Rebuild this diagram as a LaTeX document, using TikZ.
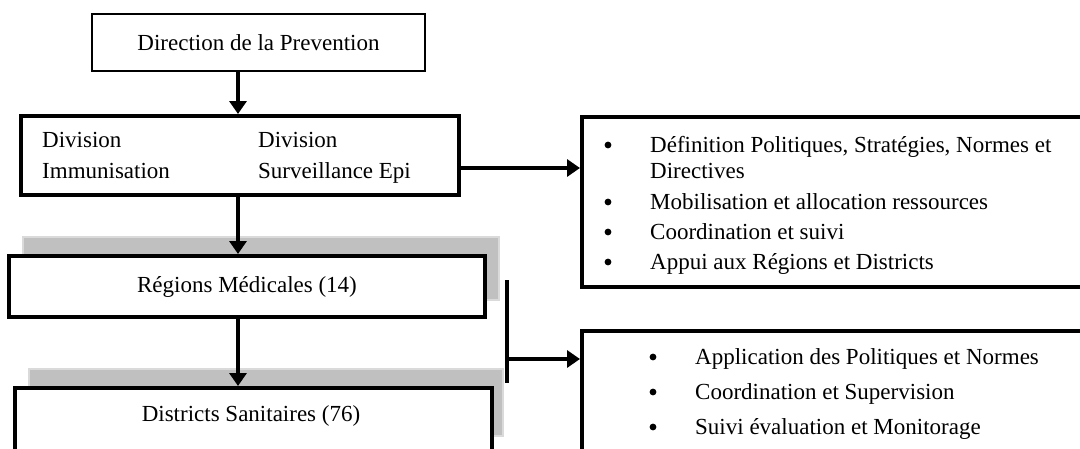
\documentclass[tikz,border=0pt]{standalone}
\usepackage{fontspec}
\setmainfont{Liberation Serif}
\usepackage{tikz}
\usetikzlibrary{arrows.meta,positioning}
\definecolor{shgrey}{HTML}{C0C0C0}
\definecolor{shedge}{HTML}{DADADA}
\tikzset{
  orgbox/.style={draw,line width=4pt,fill=white,inner sep=0pt,anchor=north west},
  topbox/.style={draw,line width=2pt,fill=white,inner sep=0pt,anchor=north west},
  shadowbox/.style={fill=shgrey,draw=shedge,line width=1.2pt},
  link/.style={line width=3.5pt,-{Triangle[length=13pt,width=17pt]}},
  lbl/.style={font=\fontsize{23}{27}\selectfont,inner sep=0pt},
}

\begin{document}
\begin{tikzpicture}[x=1pt,y=-1pt]
  \useasboundingbox (0,0) rectangle (1080,448);
  \clip (0,0) rectangle (1080,448);
  % shadows
  \draw[shadowbox] (23,237) rectangle (499,300);
  \draw[shadowbox] (29,369) rectangle (503,436);
  % boxes
  \node[topbox,minimum width=333pt,minimum height=57pt,lbl] (dir) at (91,13) {Direction de la Prevention};
  \node[orgbox,minimum width=438pt,minimum height=79pt] (div) at (19,114) {};
  \node[orgbox,minimum width=476pt,minimum height=61pt,lbl] (reg) at (7,254) {R\'egions M\'edicales (14)};
  \node[orgbox,minimum width=477pt,minimum height=100pt] (dis) at (13,386) {};
  \node[orgbox,minimum width=520pt,minimum height=170pt] (task1) at (580,115) {};
  \node[orgbox,minimum width=520pt,minimum height=150pt] (task2) at (580,329) {};
  % texts
  \node[lbl,anchor=base west] (div1a) at (42,147) {Division};
  \node[lbl,anchor=base west] (div1b) at (42,178) {Immunisation};
  \node[lbl,anchor=base west] (div2a) at (258,147) {Division};
  \node[lbl,anchor=base west] (div2b) at (258,178) {Surveillance Epi};
  \node[lbl,anchor=base] (dislbl) at (251,421) {Districts Sanitaires (76)};
  \foreach \yy/\txt in {152/{D\'efinition Politiques, Strat\'egies, Normes et},178/Directives,209/Mobilisation et allocation ressources,239/Coordination et suivi,269/Appui aux R\'egions et Districts}
    \node[lbl,anchor=base west] at (650,\yy) {\txt};
  \foreach \yy in {152,209,239,269}
    \fill (608,\yy-7) circle (3.4pt);
  \foreach \yy/\txt in {364/Application des Politiques et Normes,399/Coordination et Supervision,434/Suivi \'evaluation et Monitorage}
    {\node[lbl,anchor=base west] at (695,\yy) {\txt};
     \fill (653,\yy-7) circle (3.4pt);}
  % connectors
  \coordinate (spine) at (238,0);
  \coordinate (row) at (0,168);
  \coordinate (brtop) at (507,280);
  \coordinate (brbot) at (507,383);
  \coordinate (brmid) at (507,359);
  \draw[link] (spine |- dir.south) -- (spine |- div.north);
  \draw[link] (spine |- div.south) -- (spine |- reg.north);
  \draw[link] (spine |- reg.south) -- (spine |- dis.north);
  \draw[link] (div.east |- row) -- (task1.west |- row);
  \draw[line width=3.5pt] (brtop) -- (brbot);
  \draw[link] (brmid) -- (task2.west |- brmid);
\end{tikzpicture}
\end{document}
